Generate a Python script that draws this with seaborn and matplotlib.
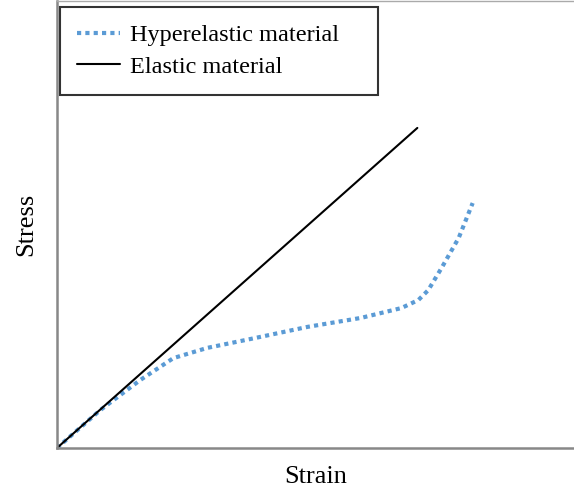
import seaborn as sns
import pandas as pd
import matplotlib.pyplot as plt

sns.set_style('white')
plt.rcParams['font.family'] = ['Liberation Serif', 'DejaVu Serif']
plt.rcParams['text.color'] = 'black'
plt.rcParams['axes.labelcolor'] = 'black'

# strain / stress values (arbitrary units, 0-100)
hyper_strain = [0, 8.4, 16.1, 22.5, 29.1, 37.5, 48.5, 58.8, 66.6, 69.9, 71.8, 74.4, 77.7, 80.4]
hyper_stress = [0, 8.5, 15.2, 20.1, 22.4, 24.4, 27.1, 29.1, 31.3, 33.1, 35.3, 40.3, 47.0, 54.8]
elastic_strain = [0, 69.7]
elastic_stress = [0, 71.6]

hyper = pd.DataFrame({'Strain': hyper_strain, 'Stress': hyper_stress})
elastic = pd.DataFrame({'Strain': elastic_strain, 'Stress': elastic_stress})

fig = plt.figure(figsize=(5.74, 4.95), dpi=100)
ax = fig.add_axes([0.0993, 0.095, 0.9007, 0.903])

sns.lineplot(x='Strain', y='Stress', data=hyper, ax=ax, color='#5B9BD5',
             linewidth=3.0, linestyle=(0, (1, 1.0)), label='Hyperelastic material')
sns.lineplot(x='Strain', y='Stress', data=elastic, ax=ax, color='black',
             linewidth=1.5, label='Elastic material')
for l in ax.lines:
    l.set_dash_capstyle('butt')

ax.set_xlim(0, 100)
ax.set_ylim(0, 100)
ax.set_xticks([])
ax.set_yticks([])
ax.set_xlabel('Strain', fontsize=19, labelpad=13)
ax.set_ylabel('Stress', fontsize=19, labelpad=14)

for s in ['left', 'bottom']:
    ax.spines[s].set_color('#888888')
    ax.spines[s].set_linewidth(1.8)
ax.spines['top'].set_color('#aaaaaa')
ax.spines['top'].set_linewidth(1.0)
ax.spines['right'].set_visible(False)

leg = ax.legend(loc='upper left', fontsize=17.5, frameon=True, fancybox=False,
                edgecolor='black', borderpad=0.7, handlelength=1.75,
                handletextpad=0.45, labelspacing=0.4, borderaxespad=0,
                mode='expand', bbox_to_anchor=(0.0058, 0.796, 0.6155, 0.1906))
leg.get_frame().set_linewidth(1.5)

plt.savefig('out.png', dpi=100)
